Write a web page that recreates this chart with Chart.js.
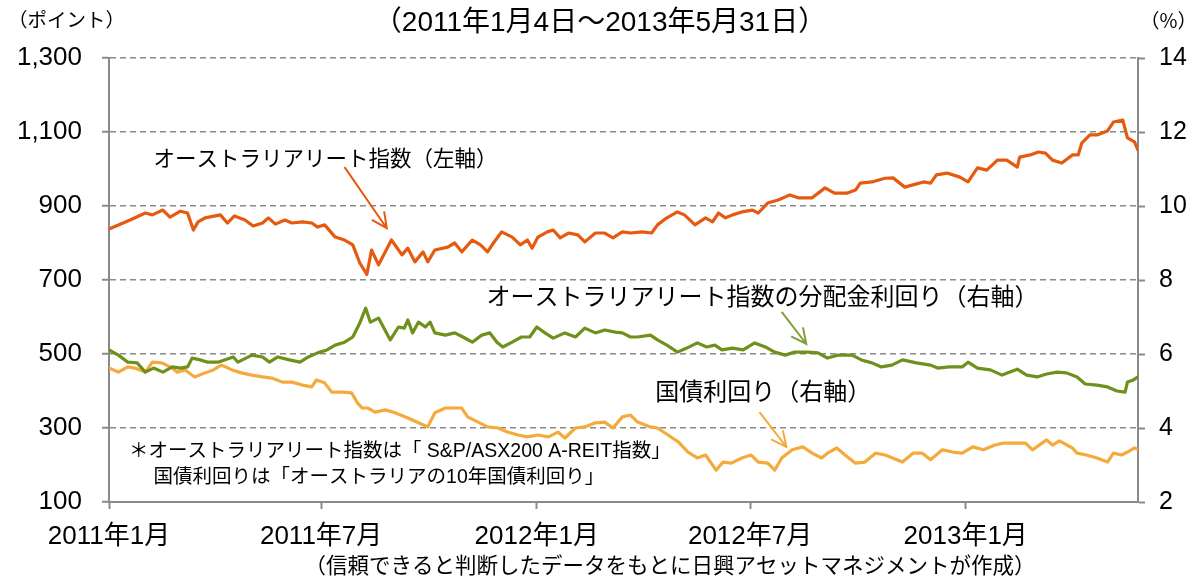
<!DOCTYPE html>
<html>
<head>
<meta charset="utf-8">
<script src="https://cdn.jsdelivr.net/npm/chart.js@4.4.1/dist/chart.umd.min.js"></script>
<style>
  body { margin: 0; background: #fff; }
  #wrap { width: 1198px; height: 581px; }
</style>
</head>
<body>
<div id="wrap"><canvas id="chart"></canvas></div>
<script>
// x values are days counted from 2011-01-01 (day 3 = 2011-01-04, day 881 = 2013-05-31)
const tickDays = [3, 184, 368, 550, 734]
const tickLabels = ['2011年1月', '2011年7月', '2012年1月', '2012年7月', '2013年1月']

// オーストラリアリート指数 (left axis, points)
const reitDays = [3,17,21,34,40,49,55,64,70,75,79,85,98,104,110,119,126,134,139,145,153,159,168,176,181,187,196,204,211,217,223,227,233,244,253,258,264,271,275,281,292,298,304,313,320,326,331,338,347,354,360,364,369,377,382,388,395,403,409,418,426,433,441,448,458,466,471,479,488,494,503,512,518,523,529,535,543,552,557,565,574,584,591,603,614,622,633,640,644,654,665,672,682,689,698,704,709,718,729,736,744,752,761,769,778,780,789,796,802,808,816,825,830,833,840,846,855,860,868,872,878,881]
const reitIndex = [838,857,862,881,876,889,870,886,881,835,857,868,876,854,873,862,846,854,868,851,862,854,857,854,843,849,816,808,795,746,715,781,741,808,768,786,749,776,749,781,789,800,776,808,795,776,800,830,816,795,808,786,816,830,835,814,827,822,803,827,827,814,830,827,830,827,849,868,884,876,849,868,857,881,868,876,884,889,881,908,916,930,922,922,949,935,935,943,962,965,975,976,951,957,965,962,984,989,978,965,1003,997,1024,1024,1005,1032,1038,1046,1043,1024,1016,1038,1038,1070,1092,1092,1103,1127,1132,1084,1073,1051]

// 分配金利回り (right axis, %)
const yieldDays = [3,11,19,27,34,41,49,57,64,70,74,81,87,96,109,113,125,134,140,147,157,166,173,181,189,196,204,211,217,222,226,233,243,250,255,258,262,267,273,277,281,290,298,305,313,321,328,334,339,347,355,362,368,375,382,392,401,409,418,426,435,441,448,454,465,471,479,488,496,505,513,520,526,535,544,554,563,571,580,588,599,608,616,625,637,645,654,662,671,680,692,704,710,720,731,736,744,755,765,770,778,786,795,803,812,820,829,836,846,855,863,870,872,877,881]
const distYield = [6.11,5.97,5.78,5.76,5.51,5.62,5.51,5.65,5.62,5.65,5.89,5.84,5.78,5.78,5.92,5.78,5.97,5.92,5.78,5.92,5.84,5.78,5.92,6.03,6.11,6.24,6.32,6.46,6.84,7.24,6.86,6.97,6.38,6.73,6.70,6.92,6.57,6.86,6.73,6.86,6.57,6.51,6.57,6.46,6.32,6.51,6.57,6.32,6.19,6.32,6.46,6.46,6.73,6.57,6.43,6.57,6.46,6.70,6.57,6.65,6.59,6.57,6.46,6.46,6.51,6.38,6.24,6.05,6.16,6.30,6.19,6.24,6.11,6.16,6.11,6.30,6.19,6.05,5.97,6.05,6.05,6.03,5.89,5.97,5.97,5.84,5.76,5.65,5.70,5.84,5.76,5.70,5.62,5.65,5.65,5.78,5.62,5.57,5.43,5.49,5.59,5.43,5.38,5.46,5.51,5.49,5.38,5.19,5.16,5.11,5.00,4.97,5.24,5.30,5.38]

// 国債利回り (right axis, %)
const bondDays = [3,11,19,25,34,40,48,57,61,68,76,85,92,99,108,116,125,134,142,151,159,168,176,180,187,193,202,210,215,219,224,230,239,247,258,267,275,281,290,298,304,309,318,326,335,343,352,360,369,378,386,392,401,409,418,426,433,441,448,454,465,471,480,489,497,505,512,521,527,534,543,551,557,565,571,577,586,595,603,611,616,624,631,640,648,657,665,669,680,689,697,704,714,723,731,740,749,759,766,774,785,791,803,808,814,825,829,837,846,855,860,867,872,878,881]
const bondYield = [5.62,5.51,5.65,5.62,5.51,5.78,5.76,5.62,5.51,5.57,5.38,5.49,5.57,5.70,5.57,5.49,5.43,5.38,5.35,5.24,5.24,5.16,5.11,5.30,5.22,4.97,4.97,4.95,4.68,4.54,4.54,4.43,4.49,4.41,4.27,4.14,4.03,4.41,4.54,4.54,4.54,4.30,4.16,4.03,4.00,3.89,3.81,3.76,3.81,3.76,3.89,3.73,4.00,4.03,4.14,4.16,4.00,4.30,4.35,4.16,4.03,4.00,3.81,3.62,3.35,3.19,3.27,2.86,3.08,3.05,3.19,3.27,3.08,3.05,2.86,3.19,3.41,3.49,3.32,3.19,3.32,3.46,3.27,3.05,3.08,3.32,3.27,3.22,3.08,3.32,3.32,3.14,3.41,3.35,3.32,3.49,3.41,3.54,3.59,3.59,3.59,3.41,3.68,3.54,3.65,3.46,3.32,3.27,3.19,3.08,3.32,3.27,3.35,3.46,3.42]

const ORANGE = '#E65A10'
const GREEN = '#70901C'
const YELLOW = '#F5AA3C'
const AXIS = '#8a8a8a'
const FONT = '"Liberation Sans", "Noto Sans CJK JP", sans-serif'
const JFONT = '"Noto Sans CJK JP", "Liberation Sans", sans-serif'

const toPoints = (days, vals) => days.map((d, i) => ({ x: d, y: vals[i] }))

function arrow(ctx, x1, y1, x2, y2, color) {
    const a = Math.atan2(y2 - y1, x2 - x1)
    const len = 17, spread = 0.45
    ctx.save()
    ctx.strokeStyle = color
    ctx.lineWidth = 2
    ctx.beginPath()
    ctx.moveTo(x1, y1)
    ctx.lineTo(x2, y2)
    ctx.moveTo(x2 - len * Math.cos(a - spread), y2 - len * Math.sin(a - spread))
    ctx.lineTo(x2, y2)
    ctx.lineTo(x2 - len * Math.cos(a + spread), y2 - len * Math.sin(a + spread))
    ctx.stroke()
    ctx.restore()
}

// texts and arrows, placed in data units (day, left-axis value)
const textPlugin = {
    id: 'texts',
    afterDraw(chart) {
        const ctx = chart.ctx
        const sx = chart.scales.x, sy = chart.scales.y
        const px = d => sx.getPixelForValue(d)
        const py = v => sy.getPixelForValue(v)
        ctx.save()
        ctx.fillStyle = '#000'
        ctx.textBaseline = 'middle'

        ctx.font = '28px ' + FONT
        ctx.textAlign = 'center'
        ctx.fillText('（2011年1月4日～2013年5月31日）', 600, 23)

        ctx.font = '19.5px ' + JFONT
        ctx.textAlign = 'left'
        ctx.fillText('（ポイント）', 8, 20)
        ctx.textAlign = 'right'
        ctx.fillText('（%）', 1197, 21)

        ctx.font = '21.5px ' + FONT
        ctx.textAlign = 'center'
        ctx.fillText('（信頼できると判断したデータをもとに日興アセットマネジメントが作成）', 670, 567)

        ctx.textAlign = 'left'
        ctx.font = '21.5px ' + JFONT
        ctx.fillText('オーストラリアリート指数（左軸）', px(41), py(1030))
        ctx.font = '24px ' + JFONT
        ctx.fillText('オーストラリアリート指数の分配金利回り（右軸）', px(325), py(657))
        ctx.fillText('国債利回り（右軸）', px(469), py(400))

        ctx.font = '19.5px ' + FONT
        ctx.fillText('＊オーストラリアリート指数は「 S&P/ASX200 A-REIT指数」', px(20), py(235))
        ctx.fillText('国債利回りは「オーストラリアの10年国債利回り」', px(41), py(165))
        ctx.restore()

        arrow(ctx, px(204), py(1005), px(240), py(840), ORANGE)
        arrow(ctx, px(577), py(614), px(598), py(527), '#7FA03A')
        arrow(ctx, px(558), py(343), px(581), py(249), YELLOW)
    }
}

new Chart(document.getElementById('chart'), {
    type: 'line',
    data: {
        datasets: [
            { label: 'リート指数', data: toPoints(reitDays, reitIndex), borderColor: ORANGE, yAxisID: 'y' },
            { label: '分配金利回り', data: toPoints(yieldDays, distYield), borderColor: GREEN, yAxisID: 'y2' },
            { label: '国債利回り', data: toPoints(bondDays, bondYield), borderColor: YELLOW, yAxisID: 'y2' }
        ]
    },
    options: {
        responsive: true,
        maintainAspectRatio: false,
        animation: false,
        elements: {
            line: { borderWidth: 3.2, tension: 0, borderJoinStyle: 'round', borderCapStyle: 'round' },
            point: { radius: 0 }
        },
        layout: { padding: { top: 58, left: 0, right: 0, bottom: 0 } },
        plugins: {
            legend: { display: false },
            tooltip: { enabled: false }
        },
        scales: {
            x: {
                type: 'linear',
                min: 3,
                max: 881,
                afterBuildTicks: scale => { scale.ticks = tickDays.map(v => ({ value: v })) },
                afterFit: scale => { scale.height = 79 },
                ticks: {
                    autoSkip: false,
                    maxRotation: 0,
                    padding: 12,
                    color: '#000',
                    font: { size: 26, family: FONT },
                    callback: value => tickLabels[tickDays.indexOf(value)]
                },
                grid: { drawOnChartArea: false, tickLength: 7, tickColor: AXIS, tickWidth: 2 },
                border: { color: AXIS, width: 2 }
            },
            y: {
                position: 'left',
                min: 100,
                max: 1300,
                afterBuildTicks: scale => { scale.ticks = [100, 300, 500, 700, 900, 1100, 1300].map(v => ({ value: v })) },
                afterFit: scale => { scale.width = 109 },
                ticks: {
                    padding: 20,
                    color: '#000',
                    font: { size: 26, family: FONT },
                    callback: v => v.toLocaleString('en-US')
                },
                grid: {
                    color: AXIS,
                    lineWidth: 1.5,
                    tickLength: 7,
                    tickColor: AXIS,
                    tickWidth: 2,
                    tickBorderDash: []
                },
                border: { color: AXIS, width: 2, dash: [6, 4] }
            },
            y2: {
                position: 'right',
                min: 2,
                max: 14,
                afterBuildTicks: scale => { scale.ticks = [2, 4, 6, 8, 10, 12, 14].map(v => ({ value: v })) },
                afterFit: scale => { scale.width = 60 },
                ticks: {
                    padding: 14,
                    color: '#000',
                    font: { size: 25, family: FONT }
                },
                grid: { drawOnChartArea: false, tickLength: 7, tickColor: AXIS, tickWidth: 2 },
                border: { color: AXIS, width: 2 }
            }
        }
    },
    plugins: [textPlugin]
})
</script>
</body>
</html>
